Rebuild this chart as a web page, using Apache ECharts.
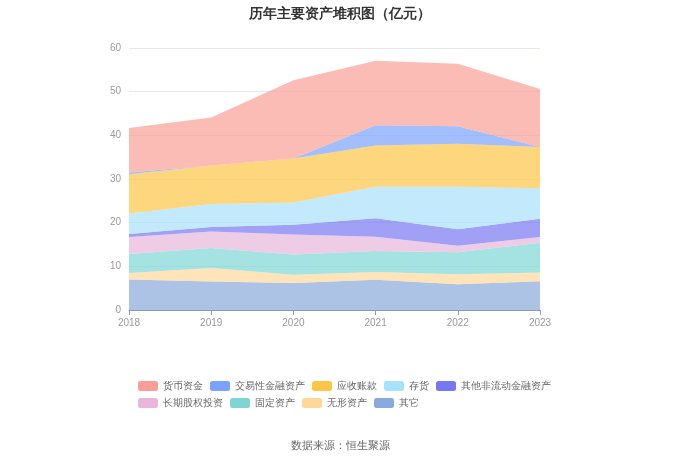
<!DOCTYPE html>
<html><head><meta charset="utf-8">
<script src="https://cdn.jsdelivr.net/npm/echarts@6/dist/echarts.min.js"></script>
<style>html,body{margin:0;padding:0;background:#fff}#c{width:680px;height:460px}</style>
</head><body><div id="c"></div>
<script>
const years = ['2018','2019','2020','2021','2022','2023'];
const cash = [10.2, 11.0, 17.9, 14.8, 14.3, 13.3];
const tradingFin = [0.4, 0, 0, 4.6, 4.0, 0];
const receivables = [9.0, 8.8, 10.1, 9.5, 9.9, 9.4];
const inventory = [4.7, 5.3, 5.1, 7.2, 9.7, 7.0];
const otherNonCurFin = [0.7, 1.0, 2.2, 4.2, 3.8, 4.2];
const longEquity = [3.9, 3.8, 4.6, 3.3, 1.5, 1.3];
const fixedAssets = [4.3, 4.6, 4.6, 4.8, 5.0, 6.8];
const intangible = [1.5, 3.1, 1.9, 1.8, 2.3, 2.0];
const others = [7.0, 6.5, 6.2, 6.9, 5.9, 6.6];
const yTicks = [0, 10, 20, 30, 40, 50, 60];

const defs = [
  ['其它', others, '#8aa9dc'],
  ['无形资产', intangible, '#fed89a'],
  ['固定资产', fixedAssets, '#7fd5d5'],
  ['长期股权投资', longEquity, '#e8b7da'],
  ['其他非流动金融资产', otherNonCurFin, '#7877f2'],
  ['存货', inventory, '#a8e1fb'],
  ['应收账款', receivables, '#fec546'],
  ['交易性金融资产', tradingFin, '#7ba3fb'],
  ['货币资金', cash, '#f99f97']
];
const chart = echarts.init(document.getElementById('c'));
chart.setOption({
  animation: false,
  title: [
    {text: '历年主要资产堆积图（亿元）', left: 'center', top: 2,
     textStyle: {fontSize: 14, fontWeight: 'bold', color: '#333'}},
    {text: '数据来源：恒生聚源', left: 'center', top: 435,
     textStyle: {fontSize: 11, fontWeight: 'normal', color: '#666'}}
  ],
  legend: {
    data: defs.slice().reverse().map(d => d[0]),
    icon: 'roundRect',
    left: 133, top: 376, width: 425,
    itemWidth: 20, itemHeight: 10, itemGap: 7,
    textStyle: {fontSize: 10, color: '#666'}
  },
  grid: {left: 129, right: 140, top: 48, bottom: 150},
  xAxis: {
    type: 'category', data: years, boundaryGap: false,
    axisLine: {lineStyle: {color: '#8a9bb8'}},
    axisTick: {show: true, lineStyle: {color: '#8a9bb8'}},
    axisLabel: {color: '#999', fontSize: 10}
  },
  yAxis: {
    type: 'value', min: yTicks[0], max: yTicks[yTicks.length-1], interval: 10,
    axisLine: {show: false}, axisTick: {show: false},
    axisLabel: {color: '#999', fontSize: 10},
    splitLine: {lineStyle: {color: '#e3e8f2'}}
  },
  series: defs.map(d => ({
    name: d[0], type: 'line', stack: 'total', data: d[1],
    symbol: 'none', smooth: false,
    itemStyle: {color: d[2]},
    lineStyle: {width: 0},
    areaStyle: {color: d[2], opacity: 0.7}
  }))
});
</script></body></html>
